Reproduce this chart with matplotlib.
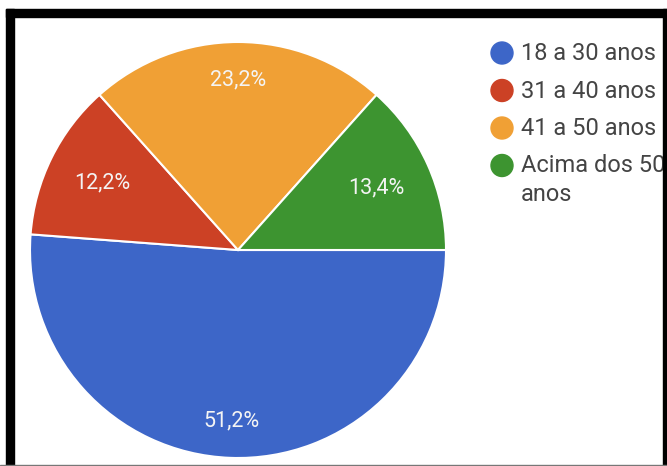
import numpy as np
import matplotlib.pyplot as plt
from matplotlib.patches import Rectangle, Circle

plt.rcParams['font.family'] = ['Roboto', 'DejaVu Sans']

# Dados do grafico
faixas = ['18 a 30 anos', '31 a 40 anos', '41 a 50 anos', 'Acima dos 50\nanos']
percentuais = [51.2, 12.2, 23.2, 13.4]
cores = ['#3d66c8', '#cc4125', '#f0a035', '#3d9430']

W, H = 667, 466
fig = plt.figure(figsize=(W / 100, H / 100), dpi=100)

# Pie: centro (238, 250) px, raio 208 px
cx, cy, r = 238, 250, 208
ax = fig.add_axes([(cx - r) / W, (H - cy - r) / H, 2 * r / W, 2 * r / H])
wedges, texts = ax.pie(percentuais, colors=cores, startangle=0, counterclock=False,
                       labels=[('%.1f%%' % p).replace('.', ',') for p in percentuais],
                       labeldistance=0.82,
                       wedgeprops=dict(edgecolor='white', linewidth=1.5))
for w, t, p in zip(wedges, texts, percentuais):
    t.set_color('#f4f4f4')
    t.set_fontsize(15.5)
    t.set_ha('center')
    t.set_va('center')
    # fatias estreitas: rotulo mais para dentro
    if p < 15:
        ang = np.deg2rad((w.theta1 + w.theta2) / 2)
        t.set_position((0.73 * np.cos(ang), 0.73 * np.sin(ang)))
ax.set_xlim(-1, 1)
ax.set_ylim(-1, 1)
ax.set_aspect('equal')
for w in wedges:
    w.set_clip_on(False)

# Legenda manual
lx, ly0, dy = 502, 53, 37.5
for i, (nome, cor) in enumerate(zip(faixas, cores)):
    y = ly0 + i * dy
    fig.patches.append(Circle((lx, H - y), 11, color=cor, transform=None))
    fig.text((lx + 19) / W, 1 - (y - 11) / H, nome, color='#444444', fontsize=17,
             ha='left', va='top', linespacing=1.3)

# Moldura preta
fig.patches.append(Rectangle((6 / W, -0.1), 8 / W, 1.1 - 9 / H, color='black',
                             transform=fig.transFigure, zorder=10))
fig.patches.append(Rectangle((6 / W, 1 - 17 / H), 1, 8 / H, color='black',
                             transform=fig.transFigure, zorder=10))
fig.patches.append(Rectangle((663 / W, -0.1), 1, 1.1 - 9 / H, color='black',
                             transform=fig.transFigure, zorder=10))
fig.patches.append(Rectangle((0, 0), 1, 1.5 / H, color='#777777',
                             transform=fig.transFigure, zorder=11))

fig.savefig('out.png', dpi=100)
